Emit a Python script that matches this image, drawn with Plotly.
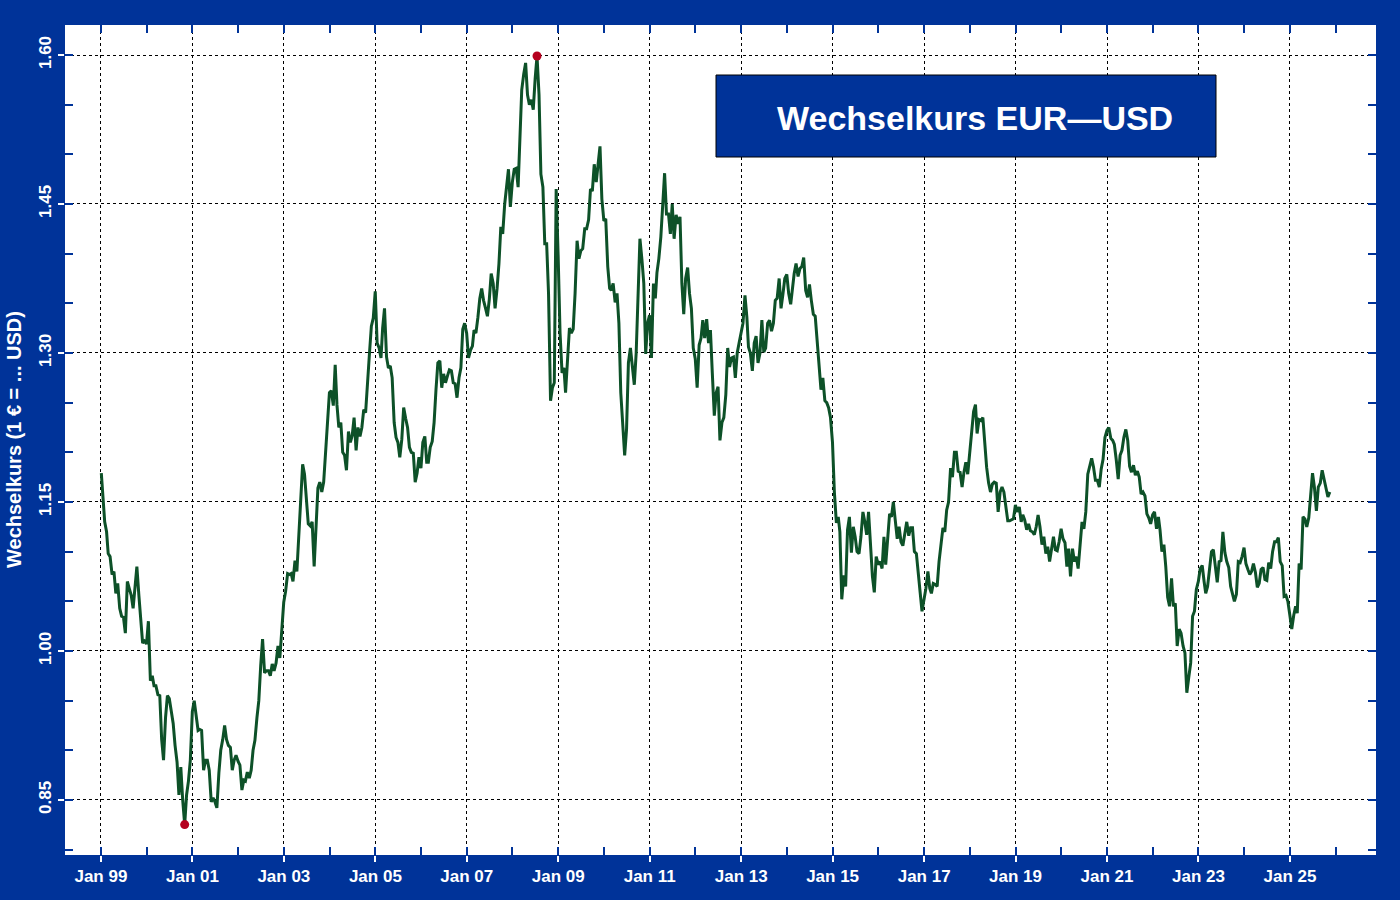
import pandas as pd
import plotly.graph_objects as go

# EUR/USD: two values per month (mid-month, month end)
first_day = "1999-01-04"
first_rate = 1.179

y1999 = [1.160, 1.130, 1.120, 1.098, 1.095, 1.077, 1.080, 1.058, 1.068, 1.043, 1.035, 1.034,
         1.018, 1.070, 1.063, 1.056, 1.043, 1.067, 1.085, 1.056, 1.035, 1.008, 1.010, 1.007]
y2000 = [1.030, 0.970, 0.975, 0.965, 0.965, 0.956, 0.955, 0.911, 0.890, 0.933, 0.955, 0.952,
         0.940, 0.927, 0.905, 0.888, 0.855, 0.883, 0.850, 0.8252, 0.855, 0.869, 0.890, 0.939]
y2001 = [0.950, 0.937, 0.920, 0.921, 0.920, 0.880, 0.890, 0.890, 0.880, 0.848, 0.852, 0.848,
         0.842, 0.877, 0.900, 0.911, 0.925, 0.911, 0.905, 0.903, 0.880, 0.890, 0.895, 0.889]
y2002 = [0.885, 0.860, 0.870, 0.869, 0.878, 0.872, 0.880, 0.900, 0.910, 0.933, 0.950, 0.985,
         1.012, 0.978, 0.980, 0.980, 0.975, 0.987, 0.980, 0.988, 1.005, 0.993, 1.020, 1.049]
y2003 = [1.060, 1.078, 1.077, 1.078, 1.070, 1.091, 1.080, 1.117, 1.160, 1.188, 1.178, 1.150,
         1.128, 1.126, 1.130, 1.085, 1.125, 1.164, 1.170, 1.160, 1.170, 1.199, 1.225, 1.260]
y2004 = [1.262, 1.247, 1.288, 1.248, 1.225, 1.230, 1.200, 1.197, 1.182, 1.221, 1.210, 1.217,
         1.235, 1.202, 1.225, 1.216, 1.225, 1.243, 1.240, 1.275, 1.300, 1.327, 1.335, 1.362]
y2005 = [1.310, 1.305, 1.295, 1.325, 1.345, 1.296, 1.285, 1.287, 1.275, 1.230, 1.215, 1.210,
         1.195, 1.213, 1.245, 1.234, 1.225, 1.205, 1.200, 1.199, 1.170, 1.179, 1.195, 1.184]
y2006 = [1.210, 1.216, 1.190, 1.190, 1.205, 1.211, 1.230, 1.263, 1.290, 1.292, 1.265, 1.279,
         1.270, 1.277, 1.283, 1.282, 1.270, 1.269, 1.255, 1.275, 1.285, 1.324, 1.330, 1.320]
y2007 = [1.295, 1.303, 1.307, 1.323, 1.320, 1.336, 1.355, 1.365, 1.353, 1.345, 1.337, 1.354,
         1.380, 1.370, 1.345, 1.365, 1.390, 1.427, 1.420, 1.450, 1.465, 1.485, 1.447, 1.472]
y2008 = [1.485, 1.486, 1.467, 1.518, 1.565, 1.581, 1.592, 1.560, 1.550, 1.555, 1.545, 1.576,
         1.599, 1.560, 1.480, 1.467, 1.410, 1.410, 1.360, 1.252, 1.265, 1.270, 1.465, 1.397]
y2009 = [1.320, 1.280, 1.285, 1.260, 1.290, 1.325, 1.320, 1.324, 1.360, 1.413, 1.395, 1.403,
         1.405, 1.425, 1.425, 1.434, 1.465, 1.463, 1.490, 1.472, 1.490, 1.508, 1.455, 1.433]
y2010 = [1.435, 1.387, 1.365, 1.363, 1.370, 1.351, 1.360, 1.330, 1.260, 1.229, 1.197, 1.223,
         1.290, 1.305, 1.285, 1.268, 1.300, 1.363, 1.415, 1.394, 1.370, 1.299, 1.330, 1.338]
y2011 = [1.295, 1.370, 1.355, 1.381, 1.395, 1.417, 1.445, 1.481, 1.440, 1.440, 1.420, 1.450,
         1.415, 1.439, 1.430, 1.437, 1.370, 1.339, 1.375, 1.386, 1.360, 1.345, 1.305, 1.294]
y2012 = [1.265, 1.308, 1.315, 1.333, 1.315, 1.334, 1.310, 1.323, 1.280, 1.237, 1.260, 1.266,
         1.212, 1.230, 1.235, 1.258, 1.305, 1.286, 1.295, 1.296, 1.275, 1.300, 1.310, 1.319]
y2013 = [1.330, 1.358, 1.336, 1.306, 1.300, 1.282, 1.310, 1.317, 1.290, 1.300, 1.333, 1.301,
         1.305, 1.330, 1.333, 1.322, 1.330, 1.353, 1.355, 1.375, 1.345, 1.359, 1.375, 1.379]
y2014 = [1.360, 1.349, 1.368, 1.380, 1.390, 1.377, 1.385, 1.387, 1.396, 1.363, 1.356, 1.369,
         1.353, 1.339, 1.337, 1.313, 1.293, 1.263, 1.275, 1.252, 1.250, 1.245, 1.235, 1.210]
y2015 = [1.160, 1.129, 1.135, 1.120, 1.052, 1.076, 1.065, 1.122, 1.135, 1.099, 1.125, 1.115,
         1.100, 1.098, 1.115, 1.140, 1.130, 1.117, 1.140, 1.100, 1.075, 1.059, 1.095, 1.087]
y2016 = [1.090, 1.083, 1.115, 1.087, 1.112, 1.138, 1.135, 1.150, 1.132, 1.113, 1.125, 1.110,
         1.106, 1.117, 1.130, 1.116, 1.124, 1.124, 1.100, 1.098, 1.075, 1.059, 1.040, 1.052]
y2017 = [1.063, 1.080, 1.063, 1.058, 1.068, 1.067, 1.065, 1.090, 1.105, 1.124, 1.120, 1.142,
         1.150, 1.184, 1.175, 1.200, 1.200, 1.181, 1.180, 1.165, 1.180, 1.190, 1.178, 1.200]
y2018 = [1.225, 1.241, 1.248, 1.219, 1.233, 1.232, 1.235, 1.208, 1.185, 1.169, 1.160, 1.168,
         1.170, 1.169, 1.140, 1.160, 1.165, 1.160, 1.145, 1.131, 1.131, 1.132, 1.133, 1.147]
y2019 = [1.140, 1.145, 1.130, 1.137, 1.132, 1.122, 1.128, 1.121, 1.120, 1.117, 1.125, 1.137,
         1.125, 1.107, 1.115, 1.098, 1.105, 1.090, 1.102, 1.115, 1.102, 1.101, 1.110, 1.123]
y2020 = [1.113, 1.109, 1.085, 1.103, 1.075, 1.103, 1.090, 1.095, 1.083, 1.110, 1.130, 1.123,
         1.140, 1.178, 1.185, 1.194, 1.185, 1.172, 1.172, 1.165, 1.183, 1.193, 1.215, 1.222]
y2021 = [1.225, 1.214, 1.212, 1.208, 1.193, 1.173, 1.197, 1.202, 1.215, 1.223, 1.212, 1.186,
         1.180, 1.187, 1.177, 1.181, 1.175, 1.158, 1.160, 1.156, 1.138, 1.134, 1.128, 1.137]
y2022 = [1.140, 1.123, 1.135, 1.122, 1.100, 1.107, 1.085, 1.054, 1.045, 1.073, 1.045, 1.048,
         1.005, 1.022, 1.018, 1.005, 0.998, 0.958, 0.973, 0.988, 1.035, 1.040, 1.062, 1.070]
y2023 = [1.083, 1.086, 1.070, 1.058, 1.065, 1.084, 1.100, 1.102, 1.085, 1.069, 1.090, 1.091,
         1.120, 1.099, 1.090, 1.084, 1.065, 1.057, 1.050, 1.057, 1.090, 1.089, 1.095, 1.104]
y2024 = [1.088, 1.082, 1.077, 1.080, 1.088, 1.079, 1.064, 1.068, 1.082, 1.084, 1.072, 1.071,
         1.089, 1.083, 1.100, 1.110, 1.110, 1.114, 1.090, 1.086, 1.055, 1.056, 1.050, 1.036]
y2025 = [1.022, 1.036, 1.045, 1.038, 1.088, 1.082, 1.135, 1.133, 1.125, 1.134, 1.155, 1.179,
         1.165, 1.141, 1.165, 1.169, 1.182, 1.173, 1.165, 1.155, 1.160]

years = {1999: y1999, 2000: y2000, 2001: y2001, 2002: y2002, 2003: y2003, 2004: y2004,
         2005: y2005, 2006: y2006, 2007: y2007, 2008: y2008, 2009: y2009, 2010: y2010,
         2011: y2011, 2012: y2012, 2013: y2013, 2014: y2014, 2015: y2015, 2016: y2016,
         2017: y2017, 2018: y2018, 2019: y2019, 2020: y2020, 2021: y2021, 2022: y2022,
         2023: y2023, 2024: y2024, 2025: y2025}

dates = [pd.Timestamp(first_day)]
rates = [first_rate]
for yr, vals in years.items():
    for i, v in enumerate(vals):
        m = i // 2 + 1
        if i % 2 == 0:
            d = pd.Timestamp(yr, m, 15)
        else:
            d = pd.Timestamp(yr, m, 1) + pd.offsets.MonthEnd(0)
        dates.append(d)
        rates.append(v)

s = pd.Series(rates, index=dates)
lo, hi = s.idxmin(), s.idxmax()

BLUE = "#003399"
GREEN = "#0d5128"
RED = "#b5001e"
FONT = "Liberation Sans"

xr = ["1998-03-20", "2026-11-19"]
yr_ = [0.7946, 1.6302]

fig = go.Figure()
fig.add_trace(go.Scatter(x=s.index, y=s.values, mode="lines",
                         line=dict(color=GREEN, width=3), hoverinfo="skip"))
fig.add_trace(go.Scatter(x=[lo, hi], y=[s[lo], s[hi]], mode="markers",
                         marker=dict(color=RED, size=9), hoverinfo="skip"))

# empty traces so the tick-only overlay axes get drawn
for xa, ya in [("x2", "y"), ("x3", "y"), ("x", "y2"), ("x", "y3")]:
    fig.add_trace(go.Scatter(x=[None], y=[None], xaxis=xa, yaxis=ya, hoverinfo="skip"))

tickfont = dict(family=FONT, size=17, color="white", weight="bold")
blue_x = dict(type="date", range=xr, overlaying="x", anchor="y", tickmode="linear",
              tick0="1999-01-01", dtick="M12", ticks="inside", ticklen=8, tickwidth=2,
              tickcolor=BLUE, showticklabels=False, showgrid=False, zeroline=False)
blue_y = dict(range=yr_, overlaying="y", anchor="x", tickmode="linear", tick0=0.85,
              dtick=0.05, ticks="inside", ticklen=8, tickwidth=2, tickcolor=BLUE,
              showticklabels=False, showgrid=False, zeroline=False)

fig.update_layout(
    width=1400, height=900,
    paper_bgcolor=BLUE, plot_bgcolor="white",
    margin=dict(l=65, r=24, t=25, b=45),
    showlegend=False,
    xaxis=dict(type="date", range=xr, tickmode="linear", tick0="1999-01-01", dtick="M24",
               tickformat="%b %y", ticks="outside", ticklen=6, tickwidth=2, tickcolor="white",
               tickfont=tickfont, showgrid=True, gridcolor="black", griddash="dot",
               gridwidth=1, zeroline=False, showline=False),
    yaxis=dict(range=yr_, tickmode="linear", tick0=0.85, dtick=0.15, tickformat=".2f",
               ticks="outside", ticklen=6, tickwidth=2, tickcolor="white", tickangle=-90,
               tickfont=tickfont, showgrid=True, gridcolor="black", griddash="dot",
               gridwidth=1, zeroline=False, showline=False),
    xaxis2=dict(blue_x, side="bottom"),
    xaxis3=dict(blue_x, side="top"),
    yaxis2=dict(blue_y, side="left"),
    yaxis3=dict(blue_y, side="right"),
)

fig.add_annotation(xref="paper", yref="paper", x=(14 - 65) / 1311, y=0.5,
                   xanchor="center", yanchor="middle",
                   text="Wechselkurs (1 € = ... USD)", textangle=-90, showarrow=False,
                   font=dict(family=FONT, size=20, color="white", weight="bold"))

# title box: rectangle plus text (text sits slightly right of the box centre)
fig.add_shape(type="rect", xref="paper", yref="paper", layer="above",
              x0=(716 - 65) / 1311, x1=(1216 - 65) / 1311,
              y0=(855 - 157) / 830, y1=(855 - 75) / 830,
              fillcolor=BLUE, line=dict(color="black", width=1))
fig.add_annotation(xref="paper", yref="paper", x=(975 - 65) / 1311, y=(855 - 118) / 830,
                   xanchor="center", yanchor="middle",
                   text="Wechselkurs EUR\u2014USD", showarrow=False,
                   font=dict(family=FONT, size=34, color="white", weight="bold"))

fig.write_html("out.html", config={"displayModeBar": False},
               post_script="document.body.style.margin='0';")
